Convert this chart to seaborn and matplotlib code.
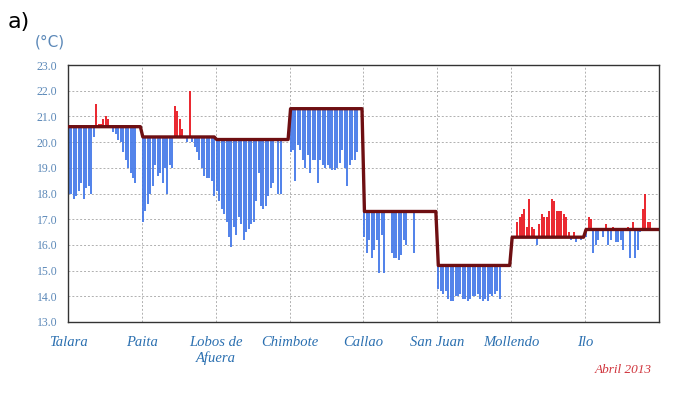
import numpy as np
import pandas as pd
import seaborn as sns
import matplotlib.pyplot as plt

# estaciones y temperatura normal (linea escalonada)
estaciones = ['Talara', 'Paita', 'Lobos de\nAfuera', 'Chimbote', 'Callao', 'San Juan', 'Mollendo', 'Ilo']
normal = [20.6, 20.2, 20.1, 21.3, 17.3, 15.2, 16.3, 16.6]

# temperatura diaria abril 2013
talara = [18.0, 18.0, 17.8, 17.9, 18.1, 18.4, 17.8, 18.2, 18.3, 18.0,
          20.2, 21.5, 20.7, 20.7, 20.9, 21.0, 20.9, 20.6, 20.4, 20.3,
          20.1, 20.0, 19.6, 19.3, 19.0, 18.8, 18.6, 18.4, 20.6, 20.6]
paita = [16.9, 17.3, 17.6, 18.0, 18.3, 19.1, 18.7, 18.8, 18.4, 19.0,
         18.0, 19.1, 19.0, 21.4, 21.2, 20.9, 20.5, 20.2, 20.0, 22.0,
         20.0, 19.8, 19.6, 19.3, 19.0, 18.7, 18.6, 18.6, 18.5, 17.9]
lobos = [18.1, 17.7, 17.4, 17.2, 16.9, 16.3, 15.9, 16.7, 16.4, 17.1,
         16.8, 16.2, 16.5, 16.6, 16.8, 16.9, 17.7, 18.8, 17.5, 17.4,
         17.5, 17.9, 18.2, 18.4, 20.1, 18.0, 18.0, 20.1, 20.1, 20.1]
chimbote = [19.6, 19.7, 18.5, 19.9, 19.7, 19.3, 19.0, 19.5, 18.8, 19.3,
            19.3, 18.4, 19.3, 19.1, 19.0, 19.1, 19.0, 18.9, 18.9, 19.0,
            19.2, 19.7, 19.0, 18.3, 19.1, 19.3, 19.3, 19.6, 21.3, 21.3]
callao = [16.3, 15.7, 16.2, 15.5, 15.8, 16.2, 14.9, 16.4, 14.9, 17.3,
          17.3, 15.7, 15.5, 15.5, 15.4, 15.6, 16.2, 16.0, 17.3, 17.3,
          15.7, 17.3, 17.3, 17.3, 17.3, 17.3, 17.3, 17.3, 17.3, 17.3]
san_juan = [14.3, 14.2, 14.1, 14.2, 13.9, 13.8, 13.8, 14.0, 14.0, 14.1,
            13.9, 13.9, 13.8, 13.9, 14.0, 14.0, 14.1, 13.9, 13.8, 13.9,
            13.8, 14.1, 14.0, 14.1, 14.2, 13.9, 15.2, 15.2, 15.2, 15.2]
mollendo = [16.0, 16.3, 16.9, 17.1, 17.2, 17.4, 16.7, 17.8, 16.7, 16.6,
            16.0, 16.8, 17.2, 17.1, 17.1, 17.3, 17.8, 17.7, 17.3, 17.3,
            17.3, 17.2, 17.1, 16.5, 16.2, 16.5, 16.1, 16.3, 16.2, 16.3]
ilo = [16.3, 17.1, 17.0, 15.7, 16.0, 16.2, 16.6, 16.3, 16.8, 16.0,
       16.2, 16.7, 16.1, 16.1, 16.2, 15.8, 16.6, 16.7, 15.5, 16.9,
       15.5, 15.8, 16.5, 17.4, 18.0, 16.9, 16.9, 16.6, 16.6, 16.6]

series = [talara, paita, lobos, chimbote, callao, san_juan, mollendo, ilo]

rows = []
for s, (vals, base) in enumerate(zip(series, normal)):
    for i, v in enumerate(vals):
        rows.append({'x': s + (i + 0.4) / 30, 'temp': v, 'normal': base})
df = pd.DataFrame(rows)

sns.set_style('white')
fig = plt.figure(figsize=(6.75, 4.0), dpi=100)
ax = fig.add_axes([0.1007, 0.195, 0.8755, 0.6425])

azul = '#4277e8'
rojo = '#e8141c'
bajo = df[df.temp < df.normal]
alto = df[df.temp > df.normal]
ax.vlines(bajo.x, bajo.temp, bajo.normal, color=azul, lw=1.3, zorder=2)
ax.vlines(alto.x, alto.normal, alto.temp, color=rojo, lw=1.3, zorder=2)

# linea de la normal
linea = pd.concat([
    pd.DataFrame({'x': [0.0], 'normal': [normal[0]]}),
    df[['x', 'normal']],
    pd.DataFrame({'x': [8.0], 'normal': [normal[-1]]}),
])
sns.lineplot(data=linea, x='x', y='normal', color='#6e0f12', lw=2.4, ax=ax, zorder=3)

ax.set_xlim(0, 8)
ax.set_ylim(13, 23)
ax.set_yticks(np.arange(13, 23.5, 1))
ax.set_yticklabels([f'{v:.1f}' for v in np.arange(13, 23.5, 1)],
                   family='Liberation Serif', fontsize=8.5, color='#5b88b8')
ax.set_xticks(range(9))
ax.set_xticklabels(estaciones + [''], family='Liberation Serif', style='italic',
                   fontsize=10.5, color='#2a6fb0', va='top', linespacing=1.2)
ax.tick_params(axis='both', length=4, width=0.8, color='#333333', direction='out')
ax.tick_params(axis='x', pad=6)
ax.grid(True, ls=(0, (2, 2)), color='#b0b0b0', lw=0.7)
ax.set_axisbelow(True)
for sp in ax.spines.values():
    sp.set_color('#333333')
    sp.set_linewidth(1.0)
ax.set_xlabel('')
ax.set_ylabel('')

fig.text(0.012, 0.945, 'a)', fontsize=16, color='black', ha='left', va='center')
fig.text(0.052, 0.895, '(°C)', fontsize=11, color='#5b88b8', ha='left', va='center')
fig.text(0.966, 0.075, 'Abril 2013', family='Liberation Serif', style='italic',
         fontsize=9.5, color='#d0343c', ha='right', va='center')

fig.savefig('out.png', dpi=100)
